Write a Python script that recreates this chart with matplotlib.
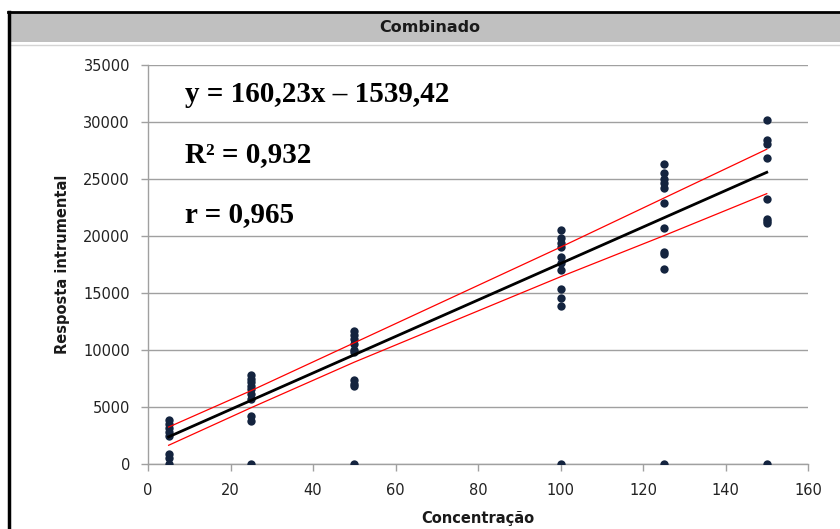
import matplotlib
matplotlib.use("Agg")
import matplotlib.pyplot as plt
from matplotlib.patches import Rectangle
from matplotlib.lines import Line2D

# ---- data ----
concentrations = [5, 25, 50, 100, 125, 150]
resp_5 = [3800, 3450, 3100, 2750, 2400, 850, 450, 0]
resp_25 = [7750, 7450, 7150, 6850, 6500, 6100, 5700, 4200, 3700, 0]
resp_50 = [11600, 11300, 10900, 10500, 10000, 9800, 7300, 7000, 6800, 0]
resp_100 = [20500, 19800, 19400, 19000, 18100, 17600, 17000, 15300, 14500, 13800, 0]
resp_125 = [26300, 25500, 25000, 24600, 24200, 22900, 20700, 18600, 18400, 17100, 0]
resp_150 = [30200, 28400, 28100, 26800, 23200, 21500, 21300, 21100, 0]
responses = [resp_5, resp_25, resp_50, resp_100, resp_125, resp_150]

slope = 160.23
intercept = 1539.42
fit_x = [5, 150]

band_x = [5, 25, 50, 100, 125, 150]
band_upper = [3200, 6400, 10600, 19000, 23300, 27600]
band_lower = [1600, 4900, 8900, 16400, 20000, 23700]

x_ticks = [0, 20, 40, 60, 80, 100, 120, 140, 160]
y_ticks = [0, 5000, 10000, 15000, 20000, 25000, 30000, 35000]

title = "Combinado"
xlabel = "Concentração"
ylabel = "Resposta intrumental"
eq_texts = ["y = 160,23x \u2013 1539,42", "R\u00b2 = 0,932", "r = 0,965"]
eq_y = [31780, 26510, 21240]

W, H = 840, 529
fig = plt.figure(figsize=(W / 100, H / 100), dpi=100)
fig.patch.set_facecolor("white")

def fx(px):
    return px / W

def fy(py):
    return 1 - py / H

# header band
fig.patches.append(Rectangle((fx(9), fy(42)), fx(840 - 9), 30 / H,
                             transform=fig.transFigure, facecolor="#c0c0c0",
                             edgecolor="none", zorder=0))
# thin line under header
fig.lines.append(Line2D([fx(9), 1], [fy(45), fy(45)], transform=fig.transFigure,
                        color="#d4d4d4", lw=1.0))
# black frame (left and top)
fig.lines.append(Line2D([fx(9), fx(9)], [0, fy(12)], transform=fig.transFigure,
                        color="black", lw=2.5))
fig.lines.append(Line2D([fx(8), 1], [fy(12), fy(12)], transform=fig.transFigure,
                        color="black", lw=2.0))
fig.text(fx(430), fy(27), title, ha="center", va="center", fontsize=11.5,
         fontweight="bold", color="#1a1a1a", family="DejaVu Sans")

ax = fig.add_axes([fx(148), fy(463.5), (808 - 148) / W, (463.5 - 65) / H])
ax.set_xlim(0, 160)
ax.set_ylim(0, 35000)
ax.set_xticks(x_ticks)
ax.set_yticks(y_ticks)
ax.set_xticklabels([str(v) for v in x_ticks])
ax.set_yticklabels([str(v) for v in y_ticks])
ax.grid(axis="y", color="#a0a0a0", lw=1.0)
ax.set_axisbelow(True)
for s in ["top", "right"]:
    ax.spines[s].set_visible(False)
for s in ["left", "bottom"]:
    ax.spines[s].set_color("#a0a0a0")
    ax.spines[s].set_linewidth(1.0)
ax.tick_params(axis="both", colors="#a0a0a0", labelcolor="#222222",
               labelsize=10.5, length=5, width=1.0, direction="out")
ax.tick_params(axis="y", pad=8)
ax.tick_params(axis="x", pad=9)

for c, vals in zip(concentrations, responses):
    ax.scatter([c] * len(vals), vals, s=36, color="#14243f", zorder=3,
               linewidths=0)

ax.plot(band_x, band_upper, color="red", lw=0.9, zorder=4)
ax.plot(band_x, band_lower, color="red", lw=0.9, zorder=4)
ax.plot(fit_x, [slope * v + intercept for v in fit_x], color="black", lw=2.0,
        zorder=5)

for t, yv in zip(eq_texts, eq_y):
    ax.text(9, yv, t, ha="left", va="baseline", fontsize=21,
            fontweight="bold", family="Liberation Serif", color="black")

fig.text(fx(478), fy(519), xlabel, ha="center", va="center", fontsize=10.5,
         fontweight="bold", color="#1a1a1a")
fig.text(fx(62), fy(264), ylabel, ha="center", va="center", rotation=90,
         fontsize=10.5, fontweight="bold", color="#1a1a1a")

fig.savefig("out.png", dpi=100)
